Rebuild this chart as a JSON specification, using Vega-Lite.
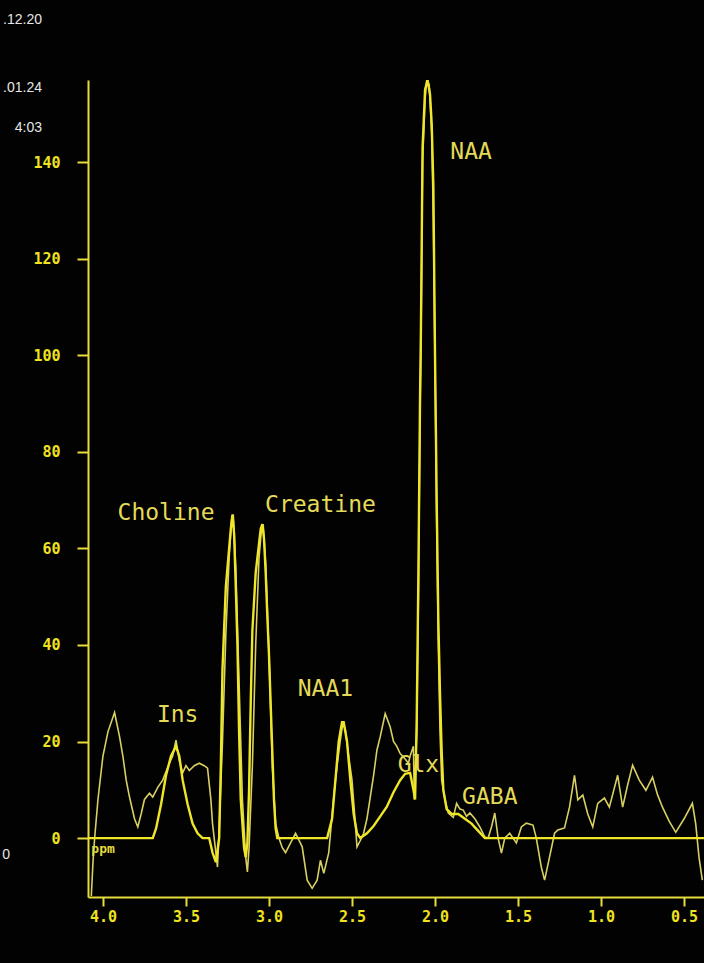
{
  "$schema": "https://vega.github.io/schema/vega-lite/v6.json",
  "width": 616,
  "height": 817,
  "autosize": {"type": "none"},
  "padding": {"left": 88, "top": 80, "right": 0, "bottom": 66},
  "background": "#020202",
  "config": {
    "view": {"stroke": null},
    "axis": {"grid": false, "title": null}
  },
  "datasets": {
    "raw": [
      {"ppm": 4.07, "value": -12}, {"ppm": 4.06, "value": -5}, {"ppm": 4.05, "value": 0}, {"ppm": 4.03, "value": 8},
      {"ppm": 4.0, "value": 17}, {"ppm": 3.97, "value": 22}, {"ppm": 3.93, "value": 26}, {"ppm": 3.9, "value": 21},
      {"ppm": 3.88, "value": 17}, {"ppm": 3.86, "value": 12}, {"ppm": 3.84, "value": 8.5}, {"ppm": 3.81, "value": 4},
      {"ppm": 3.79, "value": 2.3}, {"ppm": 3.77, "value": 5}, {"ppm": 3.75, "value": 8}, {"ppm": 3.72, "value": 9.3},
      {"ppm": 3.7, "value": 8.5}, {"ppm": 3.67, "value": 10.5}, {"ppm": 3.64, "value": 12}, {"ppm": 3.6, "value": 15.5},
      {"ppm": 3.58, "value": 17}, {"ppm": 3.56, "value": 20.3}, {"ppm": 3.54, "value": 16}, {"ppm": 3.52, "value": 13.5},
      {"ppm": 3.5, "value": 15}, {"ppm": 3.48, "value": 14}, {"ppm": 3.45, "value": 15}, {"ppm": 3.42, "value": 15.5},
      {"ppm": 3.39, "value": 15}, {"ppm": 3.37, "value": 14.5}, {"ppm": 3.35, "value": 8}, {"ppm": 3.34, "value": 3},
      {"ppm": 3.32, "value": -3}, {"ppm": 3.31, "value": -6}, {"ppm": 3.3, "value": 2}, {"ppm": 3.28, "value": 20},
      {"ppm": 3.26, "value": 42}, {"ppm": 3.24, "value": 58}, {"ppm": 3.225, "value": 66}, {"ppm": 3.215, "value": 67},
      {"ppm": 3.2, "value": 56}, {"ppm": 3.18, "value": 32}, {"ppm": 3.16, "value": 8}, {"ppm": 3.14, "value": -4},
      {"ppm": 3.13, "value": -7}, {"ppm": 3.12, "value": -2}, {"ppm": 3.1, "value": 15}, {"ppm": 3.08, "value": 40},
      {"ppm": 3.06, "value": 58}, {"ppm": 3.045, "value": 64}, {"ppm": 3.035, "value": 65}, {"ppm": 3.02, "value": 57},
      {"ppm": 3.0, "value": 38}, {"ppm": 2.98, "value": 15}, {"ppm": 2.96, "value": 3}, {"ppm": 2.94, "value": 0},
      {"ppm": 2.92, "value": -2}, {"ppm": 2.9, "value": -3}, {"ppm": 2.87, "value": -1}, {"ppm": 2.84, "value": 1},
      {"ppm": 2.8, "value": -1.8}, {"ppm": 2.77, "value": -8.7}, {"ppm": 2.74, "value": -10.4}, {"ppm": 2.71, "value": -8.7},
      {"ppm": 2.69, "value": -4.6}, {"ppm": 2.67, "value": -7.3}, {"ppm": 2.64, "value": -3}, {"ppm": 2.61, "value": 8.5},
      {"ppm": 2.59, "value": 15}, {"ppm": 2.57, "value": 20.3}, {"ppm": 2.555, "value": 23.8}, {"ppm": 2.54, "value": 22.4},
      {"ppm": 2.52, "value": 17}, {"ppm": 2.5, "value": 12}, {"ppm": 2.48, "value": 3}, {"ppm": 2.47, "value": -1.8},
      {"ppm": 2.45, "value": -0.5}, {"ppm": 2.43, "value": 1}, {"ppm": 2.41, "value": 4}, {"ppm": 2.39, "value": 8.5},
      {"ppm": 2.37, "value": 13}, {"ppm": 2.35, "value": 18.2}, {"ppm": 2.33, "value": 21}, {"ppm": 2.3, "value": 25.8},
      {"ppm": 2.27, "value": 23}, {"ppm": 2.25, "value": 20}, {"ppm": 2.23, "value": 19}, {"ppm": 2.21, "value": 17.5},
      {"ppm": 2.19, "value": 16.8}, {"ppm": 2.16, "value": 15.5}, {"ppm": 2.15, "value": 17}, {"ppm": 2.13, "value": 19},
      {"ppm": 2.125, "value": 8}, {"ppm": 2.11, "value": 22}, {"ppm": 2.1, "value": 50}, {"ppm": 2.09, "value": 88},
      {"ppm": 2.085, "value": 100}, {"ppm": 2.075, "value": 140}, {"ppm": 2.06, "value": 153}, {"ppm": 2.05, "value": 157},
      {"ppm": 2.035, "value": 156}, {"ppm": 2.02, "value": 146}, {"ppm": 2.01, "value": 128}, {"ppm": 2.0, "value": 98},
      {"ppm": 1.99, "value": 65}, {"ppm": 1.98, "value": 40}, {"ppm": 1.97, "value": 22}, {"ppm": 1.96, "value": 12},
      {"ppm": 1.94, "value": 7.9}, {"ppm": 1.92, "value": 5.2}, {"ppm": 1.89, "value": 4.3}, {"ppm": 1.87, "value": 7.2},
      {"ppm": 1.85, "value": 6}, {"ppm": 1.83, "value": 5.8}, {"ppm": 1.81, "value": 4.5}, {"ppm": 1.79, "value": 5.2},
      {"ppm": 1.76, "value": 4}, {"ppm": 1.73, "value": 2.3}, {"ppm": 1.7, "value": 0.2}, {"ppm": 1.68, "value": 0},
      {"ppm": 1.66, "value": 2.3}, {"ppm": 1.64, "value": 5.2}, {"ppm": 1.62, "value": 0}, {"ppm": 1.6, "value": -3.1},
      {"ppm": 1.58, "value": 0}, {"ppm": 1.55, "value": 1}, {"ppm": 1.53, "value": 0}, {"ppm": 1.51, "value": -1},
      {"ppm": 1.48, "value": 2.3}, {"ppm": 1.45, "value": 3.1}, {"ppm": 1.41, "value": 2.7}, {"ppm": 1.39, "value": 0},
      {"ppm": 1.36, "value": -6}, {"ppm": 1.34, "value": -8.7}, {"ppm": 1.31, "value": -3.9}, {"ppm": 1.28, "value": 1},
      {"ppm": 1.26, "value": 1.7}, {"ppm": 1.22, "value": 2.1}, {"ppm": 1.19, "value": 6.4}, {"ppm": 1.16, "value": 13},
      {"ppm": 1.14, "value": 7.9}, {"ppm": 1.11, "value": 8.9}, {"ppm": 1.08, "value": 5}, {"ppm": 1.05, "value": 2.3},
      {"ppm": 1.02, "value": 7.2}, {"ppm": 0.98, "value": 8.3}, {"ppm": 0.95, "value": 6.4}, {"ppm": 0.9, "value": 13},
      {"ppm": 0.87, "value": 6.4}, {"ppm": 0.84, "value": 11}, {"ppm": 0.81, "value": 15.1}, {"ppm": 0.77, "value": 12},
      {"ppm": 0.73, "value": 9.9}, {"ppm": 0.69, "value": 12.6}, {"ppm": 0.66, "value": 9}, {"ppm": 0.63, "value": 6.4},
      {"ppm": 0.59, "value": 3.5}, {"ppm": 0.55, "value": 1.2}, {"ppm": 0.5, "value": 4}, {"ppm": 0.45, "value": 7.2},
      {"ppm": 0.43, "value": 3}, {"ppm": 0.41, "value": -4}, {"ppm": 0.39, "value": -8.7}
    ],
    "fit": [
      {"ppm": 4.09, "value": 0}, {"ppm": 3.7, "value": 0}, {"ppm": 3.68, "value": 2}, {"ppm": 3.65, "value": 7},
      {"ppm": 3.62, "value": 13}, {"ppm": 3.59, "value": 17}, {"ppm": 3.56, "value": 19}, {"ppm": 3.54, "value": 17},
      {"ppm": 3.52, "value": 12}, {"ppm": 3.49, "value": 7}, {"ppm": 3.46, "value": 3}, {"ppm": 3.43, "value": 1},
      {"ppm": 3.4, "value": 0}, {"ppm": 3.36, "value": 0}, {"ppm": 3.34, "value": -3}, {"ppm": 3.32, "value": -5},
      {"ppm": 3.3, "value": 0}, {"ppm": 3.29, "value": 15}, {"ppm": 3.28, "value": 35}, {"ppm": 3.26, "value": 52},
      {"ppm": 3.24, "value": 60}, {"ppm": 3.23, "value": 64}, {"ppm": 3.22, "value": 67}, {"ppm": 3.21, "value": 63},
      {"ppm": 3.2, "value": 52}, {"ppm": 3.19, "value": 40}, {"ppm": 3.18, "value": 22}, {"ppm": 3.17, "value": 8},
      {"ppm": 3.15, "value": -2}, {"ppm": 3.14, "value": -4}, {"ppm": 3.13, "value": -1}, {"ppm": 3.12, "value": 10},
      {"ppm": 3.11, "value": 28}, {"ppm": 3.1, "value": 43}, {"ppm": 3.08, "value": 55}, {"ppm": 3.06, "value": 61},
      {"ppm": 3.05, "value": 64}, {"ppm": 3.04, "value": 65}, {"ppm": 3.03, "value": 62}, {"ppm": 3.02, "value": 55},
      {"ppm": 3.01, "value": 46}, {"ppm": 3.0, "value": 38}, {"ppm": 2.98, "value": 18}, {"ppm": 2.97, "value": 8},
      {"ppm": 2.96, "value": 2}, {"ppm": 2.95, "value": 0}, {"ppm": 2.65, "value": 0}, {"ppm": 2.62, "value": 4},
      {"ppm": 2.6, "value": 12}, {"ppm": 2.58, "value": 20}, {"ppm": 2.56, "value": 24}, {"ppm": 2.55, "value": 24},
      {"ppm": 2.53, "value": 20}, {"ppm": 2.51, "value": 12}, {"ppm": 2.49, "value": 5}, {"ppm": 2.47, "value": 1},
      {"ppm": 2.45, "value": 0}, {"ppm": 2.41, "value": 1}, {"ppm": 2.37, "value": 2.5}, {"ppm": 2.33, "value": 4.5},
      {"ppm": 2.29, "value": 6.5}, {"ppm": 2.25, "value": 9.5}, {"ppm": 2.21, "value": 12}, {"ppm": 2.18, "value": 13.3},
      {"ppm": 2.15, "value": 13.5}, {"ppm": 2.13, "value": 10}, {"ppm": 2.12, "value": 8}, {"ppm": 2.11, "value": 25},
      {"ppm": 2.1, "value": 55}, {"ppm": 2.09, "value": 92}, {"ppm": 2.085, "value": 105}, {"ppm": 2.075, "value": 143},
      {"ppm": 2.06, "value": 155}, {"ppm": 2.045, "value": 157}, {"ppm": 2.03, "value": 154}, {"ppm": 2.02, "value": 148},
      {"ppm": 2.01, "value": 135}, {"ppm": 2.0, "value": 100}, {"ppm": 1.99, "value": 70}, {"ppm": 1.98, "value": 45},
      {"ppm": 1.97, "value": 30}, {"ppm": 1.96, "value": 18}, {"ppm": 1.95, "value": 10}, {"ppm": 1.93, "value": 6},
      {"ppm": 1.9, "value": 5}, {"ppm": 1.86, "value": 5}, {"ppm": 1.82, "value": 4}, {"ppm": 1.78, "value": 3},
      {"ppm": 1.74, "value": 1.5}, {"ppm": 1.7, "value": 0}, {"ppm": 0.38, "value": 0}
    ],
    "labels": [
      {"ppm": 1.783, "value": 142, "label": "NAA"},
      {"ppm": 3.62, "value": 67.3, "label": "Choline"},
      {"ppm": 2.69, "value": 69, "label": "Creatine"},
      {"ppm": 3.55, "value": 25.5, "label": "Ins"},
      {"ppm": 2.66, "value": 30.8, "label": "NAA1"},
      {"ppm": 2.1, "value": 15.1, "label": "Glx"},
      {"ppm": 1.67, "value": 8.5, "label": "GABA"}
    ],
    "side": [
      {"ppm": 4.367, "value": 169.4, "label": ".12.20"},
      {"ppm": 4.367, "value": 155.3, "label": ".01.24"},
      {"ppm": 4.367, "value": 147, "label": "4:03"},
      {"ppm": 4.56, "value": -3.5, "label": "0"}
    ],
    "unit": [
      {"ppm": 4.07, "value": -2.2, "label": "ppm"}
    ]
  },
  "encoding": {
    "x": {
      "field": "ppm", "type": "quantitative",
      "scale": {"domain": [4.09, 0.38], "nice": false, "zero": false},
      "axis": {
        "values": [4.0, 3.5, 3.0, 2.5, 2.0, 1.5, 1.0, 0.5],
        "format": ".1f",
        "labelFont": "DejaVu Sans Mono", "labelFontWeight": "bold", "labelFontSize": 15,
        "labelColor": "#f0e21e", "domainColor": "#e6dc3c", "domainWidth": 2,
        "tickColor": "#e6dc3c", "tickWidth": 2, "tickSize": 9, "labelPadding": 3
      }
    },
    "y": {
      "field": "value", "type": "quantitative",
      "scale": {"domain": [-12.2, 157], "nice": false, "zero": false},
      "axis": {
        "values": [0, 20, 40, 60, 80, 100, 120, 140],
        "labelFont": "DejaVu Sans Mono", "labelFontWeight": "bold", "labelFontSize": 15,
        "labelColor": "#f0e21e", "domainColor": "#e6dc3c", "domainWidth": 2,
        "tickColor": "#e6dc3c", "tickWidth": 2, "tickSize": 11, "labelPadding": 17
      }
    }
  },
  "layer": [
    {
      "data": {"name": "raw"},
      "mark": {"type": "line", "stroke": "#d8d062", "strokeWidth": 1.6, "clip": true}
    },
    {
      "data": {"name": "fit"},
      "mark": {"type": "line", "stroke": "#f0e628", "strokeWidth": 2.4, "clip": true}
    },
    {
      "data": {"name": "labels"},
      "mark": {"type": "text", "font": "DejaVu Sans Mono", "fontSize": 23, "color": "#e4da58", "align": "center", "baseline": "middle"},
      "encoding": {"text": {"field": "label"}}
    },
    {
      "data": {"name": "unit"},
      "mark": {"type": "text", "font": "DejaVu Sans Mono", "fontWeight": "bold", "fontSize": 13, "color": "#e4da3c", "align": "left", "baseline": "middle"},
      "encoding": {"text": {"field": "label"}}
    },
    {
      "data": {"name": "side"},
      "mark": {"type": "text", "font": "Liberation Sans", "fontSize": 14, "color": "#e6e6e6", "align": "right", "baseline": "middle"},
      "encoding": {"text": {"field": "label"}}
    }
  ]
}
